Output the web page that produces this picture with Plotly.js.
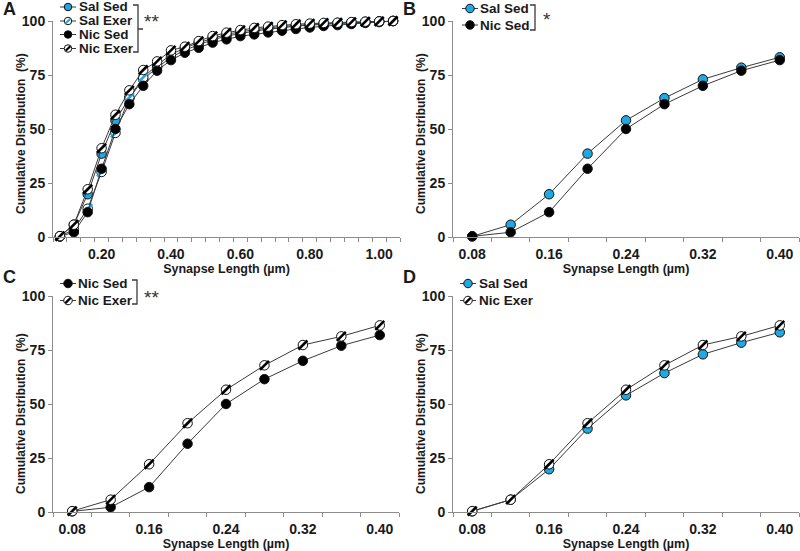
<!DOCTYPE html>
<html>
<head>
<meta charset="utf-8">
<script src="https://cdn.plot.ly/plotly-3.0.1.min.js"></script>
<style>html,body{margin:0;padding:0;background:#fff;}#chart{width:800px;height:551px;}</style>
</head>
<body>
<div id="chart"></div>
<script>
// ---- data ----
const lengths = [0.08,0.12,0.16,0.20,0.24,0.28,0.32,0.36,0.40,0.44,0.48,0.52,0.56,0.60,0.64,0.68,0.72,0.76,0.80,0.84,0.88,0.92,0.96,1.00,1.04];
const salSed  = [0.3,5.7,19.8,38.6,54.0,64.3,73.0,78.4,83.2,86.5,89.0,91.3,93.0,94.3,95.3,96.2,97.0,97.6,98.1,98.5,98.9,99.2,99.5,99.8,100];
const salExer = [0.3,3.5,13.1,30.1,48.2,64.6,73.9,79.5,84.5,87.5,90.0,92.0,93.8,95.0,96.0,96.8,97.5,98.0,98.5,98.8,99.1,99.4,99.6,99.8,100];
const nicSed  = [0.3,2.2,11.5,31.6,50.0,61.5,70.0,77.0,81.9,85.3,87.6,90.0,91.5,93.0,93.8,94.7,95.5,96.3,97.0,97.7,98.1,98.6,99.1,99.5,100];
const nicExer = [0.4,5.7,22.1,41.1,56.6,67.9,77.3,81.3,86.4,88.1,90.7,93.0,94.6,95.8,96.8,97.4,98.1,98.5,98.8,99.1,99.2,99.5,99.7,99.8,100];
const zoomCount = 9; // panels B-D show lengths up to 0.40
const ticksFull = [0.20,0.40,0.60,0.80,1.00];
const ticksZoom = [0.08,0.16,0.24,0.32,0.40];
const yTicks = [0,25,50,75,100];
const xTitle = 'Synapse Length (µm)';
const yTitle = 'Cumulative Distribution  (%)';
const seriesNames = {salSed:'Sal Sed', salExer:'Sal Exer', nicSed:'Nic Sed', nicExer:'Nic Exer'};
const seriesData = {salSed, salExer, nicSed, nicExer};
const panels = [
  {letter:'A', series:['salSed','salExer','nicSed','nicExer'], n:lengths.length, ticks:ticksFull, sig:'**'},
  {letter:'B', series:['salSed','nicSed'], n:zoomCount, ticks:ticksZoom, sig:'*'},
  {letter:'C', series:['nicSed','nicExer'], n:zoomCount, ticks:ticksZoom, sig:'**'},
  {letter:'D', series:['salSed','nicExer'], n:zoomCount, ticks:ticksZoom, sig:''}
];

// ---- styles ----
const W = 800, H = 551;
const BLUE = '#1FA8E2';
const TXT = '#1a1a1a';
const AX = '#8c8c8c';
const FONT = 'Liberation Sans, Arial, sans-serif';
const styles = {
  salSed:  {fill: BLUE,   hatch: null},
  salExer: {fill: '#fff', hatch: BLUE},
  nicSed:  {fill: '#000', hatch: null},
  nicExer: {fill: '#fff', hatch: '#000'}
};
const fx = p => p / W;
const fy = p => 1 - p / H;
// plot boxes in pixels [left, right, top, bottom]
const boxes = [[53,400,21,237],[453,799,21,237],[53,399,296,512],[453,799,296,512]];
const yTitlePos = [[21,134],[421,134],[21,414],[421,414]];
const legendPos = [
  {mx:68,  tx:77,  rows:[7,21,34.5,48.5], ms:7.5, br:{x:138, y0:5, y1:52, mid:29}, sx:151, sy:22},
  {mx:470, tx:478, rows:[8.5,25],  ms:8.5, br:{x:535, y0:5, y1:30}, sx:547, sy:20},
  {mx:68,  tx:76,  rows:[283.5,300.5], ms:8.5, br:{x:137, y0:280, y1:304}, sx:151, sy:297},
  {mx:468, tx:477, rows:[283.5,300.5], ms:8.5, br:null, sx:0, sy:0}
];
const letterPos = [[9,9],[409,9],[9,277],[409,277]];

const traces = [];
const layout = {
  width: W, height: H,
  margin: {l:0, r:0, t:0, b:0},
  paper_bgcolor: '#fff', plot_bgcolor: '#fff',
  showlegend: false,
  font: {family: FONT, size: 13, color: TXT, weight: 'bold'},
  annotations: [], shapes: []
};

panels.forEach((p, i) => {
  const xa = i === 0 ? 'x' : 'x' + (i + 1);
  const ya = i === 0 ? 'y' : 'y' + (i + 1);
  const xk = i === 0 ? 'xaxis' : 'xaxis' + (i + 1);
  const yk = i === 0 ? 'yaxis' : 'yaxis' + (i + 1);
  const b = boxes[i];
  const xs = lengths.slice(0, p.n);
  const step = lengths[1] - lengths[0];
  layout[xk] = {
    domain: [fx(b[0]), fx(b[1])], anchor: ya,
    range: [xs[0] - step / 2, xs[xs.length - 1] + step / 2],
    tickmode: 'array', tickvals: p.ticks, ticktext: p.ticks.map(v => v.toFixed(2)),
    ticks: '', showgrid: false, zeroline: false, ticklabelstandoff: 4,
    showline: true, linecolor: AX, linewidth: 1,
    minor: {ticks: 'outside', ticklen: 4, tickcolor: AX, tickwidth: 1, tick0: xs[0] - step / 2, dtick: step, showgrid: false},
    tickfont: {family: FONT, size: 14, color: TXT, weight: 'bold'},
    title: {text: xTitle, font: {family: FONT, size: 12.5, color: TXT, weight: 'bold'}, standoff: 2},
    automargin: false
  };
  layout[yk] = {
    domain: [fy(b[3]), fy(b[2])], anchor: xa,
    range: [0, 100], tickmode: 'array', tickvals: yTicks,
    ticks: 'outside', ticklen: 4, tickcolor: AX,
    showgrid: false, zeroline: false, showline: true, linecolor: AX, linewidth: 1,
    tickfont: {family: FONT, size: 14, color: TXT, weight: 'bold'},
    automargin: false
  };
  // y axis title placed like the reference (close to tick labels)
  layout.annotations.push({
    xref: 'paper', yref: 'paper', x: fx(yTitlePos[i][0]), y: fy(yTitlePos[i][1]),
    text: yTitle, textangle: -90, showarrow: false, xanchor: 'center', yanchor: 'middle',
    font: {family: FONT, size: 12, color: TXT, weight: 'bold'}
  });

  p.series.forEach(key => {
    const st = styles[key];
    const ys = seriesData[key].slice(0, p.n);
    traces.push({
      type: 'scatter', mode: 'lines+markers', x: xs, y: ys, xaxis: xa, yaxis: ya,
      name: seriesNames[key], cliponaxis: false, hoverinfo: 'x+y+name',
      line: {color: '#3a3a3a', width: 1},
      marker: {symbol: 'circle', size: 9.5, color: st.fill, line: {color: '#111', width: 1}}
    });
    if (st.hatch) {
      traces.push({
        type: 'scatter', mode: 'markers', x: xs, y: ys, xaxis: xa, yaxis: ya,
        name: seriesNames[key], cliponaxis: false, hoverinfo: 'skip',
        marker: {symbol: 'line-ne', size: 9, line: {color: st.hatch, width: 2.6}}
      });
    }
  });

  // panel letter
  layout.annotations.push({
    xref: 'paper', yref: 'paper', x: fx(letterPos[i][0]), y: fy(letterPos[i][1]),
    text: p.letter, showarrow: false, xanchor: 'center', yanchor: 'middle',
    font: {family: FONT, size: 18, color: TXT, weight: 'bold'}
  });

  // legend
  const lp = legendPos[i];
  p.series.forEach((key, r) => {
    const st = styles[key];
    const cy = lp.rows[r];
    const rad = lp.ms / 2;
    layout.shapes.push({type: 'line', xref: 'paper', yref: 'paper',
      x0: fx(lp.mx - 8), x1: fx(lp.mx + 8), y0: fy(cy), y1: fy(cy),
      line: {color: '#3a3a3a', width: 1}});
    layout.shapes.push({type: 'circle', xref: 'paper', yref: 'paper',
      x0: fx(lp.mx - rad), x1: fx(lp.mx + rad), y0: fy(cy + rad), y1: fy(cy - rad),
      fillcolor: st.fill, line: {color: '#111', width: 1}});
    if (st.hatch) {
      const d = rad * 0.62;
      layout.shapes.push({type: 'line', xref: 'paper', yref: 'paper',
        x0: fx(lp.mx - d), x1: fx(lp.mx + d), y0: fy(cy + d), y1: fy(cy - d),
        line: {color: st.hatch, width: 2.2}});
    }
    layout.annotations.push({
      xref: 'paper', yref: 'paper', x: fx(lp.tx), y: fy(cy),
      text: seriesNames[key], showarrow: false, xanchor: 'left', yanchor: 'middle',
      font: {family: FONT, size: 13.5, color: TXT, weight: 'bold'}
    });
  });
  if (lp.br) {
    const br = lp.br;
    let path = `M ${fx(br.x - 5)} ${fy(br.y0)} L ${fx(br.x)} ${fy(br.y0)} L ${fx(br.x)} ${fy(br.y1)} L ${fx(br.x - 5)} ${fy(br.y1)}`;
    if (br.mid) path += ` M ${fx(br.x)} ${fy(br.mid)} L ${fx(br.x + 5)} ${fy(br.mid)}`;
    layout.shapes.push({type: 'path', xref: 'paper', yref: 'paper', path: path, line: {color: '#3a3a3a', width: 1.3}});
  }
  if (p.sig) {
    layout.annotations.push({
      xref: 'paper', yref: 'paper', x: fx(lp.sx), y: fy(lp.sy),
      text: p.sig, showarrow: false, xanchor: 'center', yanchor: 'middle',
      font: {family: FONT, size: 19, color: '#333', weight: 'normal'}
    });
  }
});

Plotly.newPlot('chart', traces, layout, {displayModeBar: false, staticPlot: true});
</script>
</body>
</html>
